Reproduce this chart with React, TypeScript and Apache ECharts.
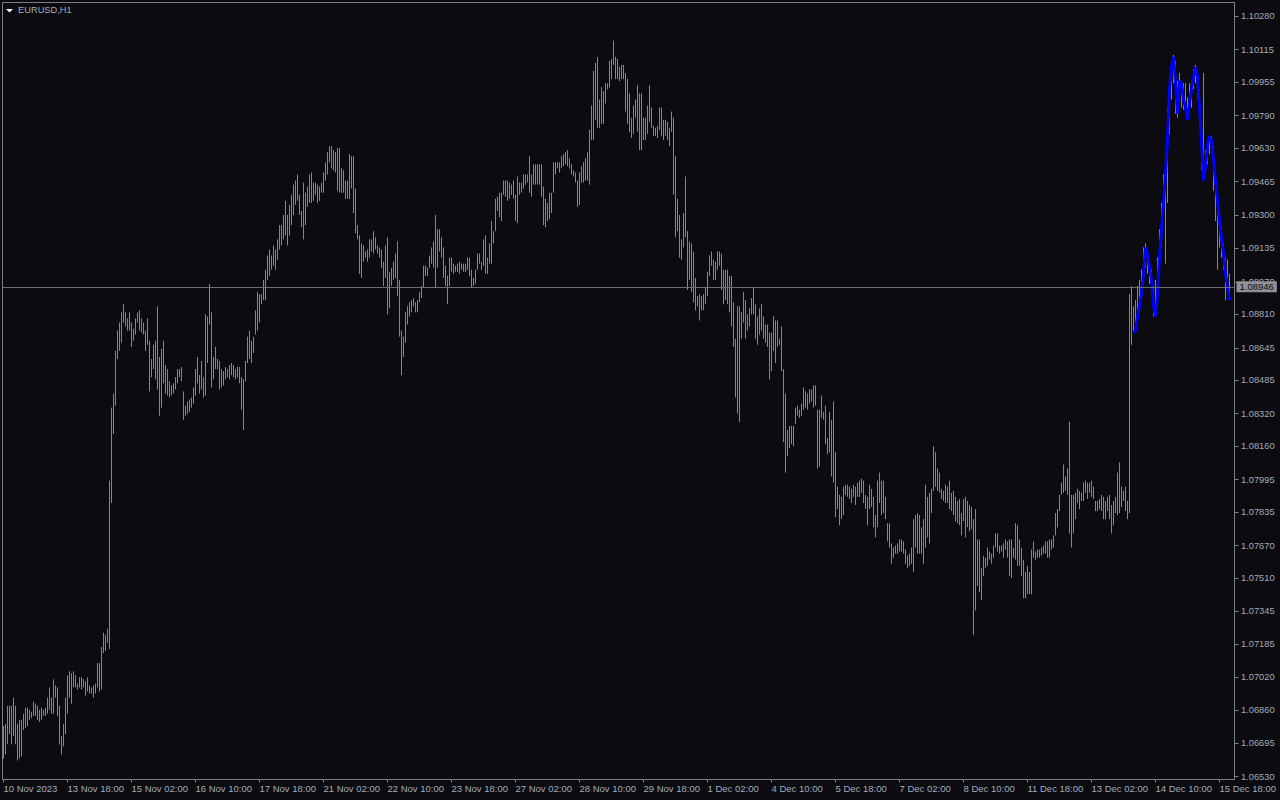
import React, { useEffect, useRef } from "react";
import * as echarts from "echarts";

// ---- Data (EURUSD H1, one bar per hour) ----
const barHigh: number[] = [
  1.0678, 1.0679, 1.0688, 1.0688, 1.0688, 1.0692, 1.0688, 1.0679, 1.0681, 1.0681,
  1.0684, 1.0687, 1.0687, 1.0686, 1.0685, 1.069, 1.0689, 1.0688, 1.0686, 1.0687,
  1.0686, 1.0687, 1.0692, 1.0697, 1.0692, 1.0701, 1.0698, 1.0697, 1.0688, 1.0673,
  1.0679, 1.0692, 1.0703, 1.0705, 1.0704, 1.0705, 1.0703, 1.0699, 1.0702, 1.0702,
  1.0701, 1.07, 1.0702, 1.0698, 1.0697, 1.0698, 1.0699, 1.0709, 1.0709, 1.0717,
  1.0724, 1.0723, 1.0726, 1.0799, 1.0835, 1.0842, 1.0863, 1.0873, 1.0877, 1.0882,
  1.0886, 1.0882, 1.0879, 1.0882, 1.0877, 1.0874, 1.0879, 1.0882, 1.0883, 1.0879,
  1.0877, 1.0873, 1.0879, 1.0868, 1.0859, 1.0866, 1.0868, 1.0885, 1.086, 1.0864,
  1.0868, 1.0856, 1.0854, 1.0848, 1.0846, 1.0847, 1.085, 1.0854, 1.0854, 1.0855,
  1.0843, 1.0836, 1.0838, 1.0839, 1.084, 1.0845, 1.0854, 1.086, 1.0851, 1.0858,
  1.085, 1.0881, 1.088, 1.0896, 1.0882, 1.086, 1.0865, 1.0859, 1.0858, 1.0854,
  1.0853, 1.0855, 1.0854, 1.0856, 1.0857, 1.0856, 1.0854, 1.0855, 1.0855, 1.085,
  1.0849, 1.0858, 1.087, 1.0873, 1.0868, 1.087, 1.0883, 1.0892, 1.0891, 1.0891,
  1.0898, 1.0903, 1.091, 1.0913, 1.091, 1.0915, 1.0913, 1.0918, 1.0925, 1.0925,
  1.093, 1.0937, 1.093, 1.0935, 1.094, 1.0945, 1.0947, 1.095, 1.094, 1.0932,
  1.0946, 1.0941, 1.0944, 1.095, 1.0951, 1.0946, 1.0946, 1.0945, 1.0944, 1.0946,
  1.0951, 1.0956, 1.0961, 1.0964, 1.0964, 1.0962, 1.0961, 1.0963, 1.0963, 1.0953,
  1.0952, 1.0947, 1.0947, 1.096, 1.0959, 1.0959, 1.0943, 1.0925, 1.092, 1.0916,
  1.0915, 1.0912, 1.0913, 1.0918, 1.0918, 1.0922, 1.0919, 1.0915, 1.0914, 1.0913,
  1.0907, 1.0915, 1.0919, 1.0902, 1.0904, 1.0907, 1.0911, 1.0917, 1.0898, 1.0873,
  1.087, 1.0882, 1.0885, 1.0887, 1.0888, 1.0889, 1.0887, 1.0888, 1.0892, 1.0895,
  1.0905, 1.0905, 1.0904, 1.091, 1.0914, 1.0917, 1.093, 1.0923, 1.0923, 1.0919,
  1.0914, 1.0905, 1.09, 1.0909, 1.0909, 1.0906, 1.0905, 1.0906, 1.0907, 1.0906,
  1.0906, 1.0906, 1.0909, 1.0909, 1.0903, 1.0899, 1.0903, 1.0911, 1.0911, 1.0907,
  1.0918, 1.092, 1.0909, 1.0916, 1.0927, 1.0922, 1.0938, 1.0939, 1.0941, 1.0941,
  1.0947, 1.0947, 1.0947, 1.0946, 1.0945, 1.0947, 1.094, 1.0949, 1.0946, 1.0946,
  1.095, 1.095, 1.095, 1.0959, 1.095, 1.0955, 1.0955, 1.0955, 1.0955, 1.0955,
  1.0944, 1.0938, 1.0936, 1.0941, 1.0941, 1.0956, 1.0956, 1.0956, 1.0956, 1.0959,
  1.096, 1.0961, 1.0962, 1.0958, 1.0955, 1.0952, 1.0951, 1.0947, 1.0951, 1.0954,
  1.0956, 1.0958, 1.0961, 1.0972, 1.0984, 1.1001, 1.1005, 1.1008, 1.0987, 1.0993,
  1.0991, 1.0995, 1.0995, 1.1006, 1.1007, 1.1016, 1.1008, 1.1007, 1.1003, 1.1004,
  1.1004, 1.1, 1.0997, 1.099, 1.0978, 1.0984, 1.0987, 1.0994, 1.099, 1.099,
  1.0978, 1.0978, 1.0984, 1.0994, 1.0983, 1.0974, 1.0973, 1.0974, 1.0983, 1.0983,
  1.0977, 1.0977, 1.0976, 1.0973, 1.0981, 1.0978, 1.0959, 1.0938, 1.093, 1.0918,
  1.0931, 1.0949, 1.0922, 1.0917, 1.0916, 1.0912, 1.0899, 1.089, 1.0891, 1.089,
  1.0891, 1.0894, 1.0902, 1.091, 1.0912, 1.0908, 1.0907, 1.0912, 1.0912, 1.0911,
  1.0903, 1.0903, 1.0903, 1.09, 1.09, 1.0887, 1.0869, 1.0885, 1.0885, 1.0882,
  1.0892, 1.0888, 1.0881, 1.0884, 1.0889, 1.0894, 1.0886, 1.088, 1.0884, 1.0886,
  1.088, 1.0876, 1.0876, 1.0872, 1.0872, 1.088, 1.0878, 1.0878, 1.0869, 1.0875,
  1.0854, 1.0842, 1.0824, 1.0826, 1.0826, 1.0826, 1.0835, 1.0836, 1.0834, 1.0837,
  1.0845, 1.0843, 1.0842, 1.0844, 1.0844, 1.0846, 1.0846, 1.0834, 1.0834, 1.0841,
  1.0833, 1.0836, 1.082, 1.0833, 1.0829, 1.0838, 1.0813, 1.0796, 1.0792, 1.0791,
  1.0796, 1.0797, 1.0797, 1.0796, 1.0795, 1.0797, 1.0796, 1.0798, 1.0799, 1.08,
  1.0799, 1.0792, 1.0791, 1.0797, 1.0795, 1.0791, 1.0782, 1.0799, 1.0803, 1.0799,
  1.0799, 1.0791, 1.0778, 1.0778, 1.0768, 1.0766, 1.0767, 1.0768, 1.077, 1.077,
  1.0769, 1.0765, 1.0762, 1.0763, 1.0766, 1.078, 1.0782, 1.0783, 1.0782, 1.0776,
  1.078, 1.0797, 1.0791, 1.0793, 1.0795, 1.0816, 1.0813, 1.0805, 1.0803, 1.0795,
  1.0794, 1.0797, 1.0796, 1.0799, 1.0793, 1.0794, 1.0791, 1.0789, 1.079, 1.0783,
  1.079, 1.0791, 1.0789, 1.0787, 1.0786, 1.078, 1.0785, 1.077, 1.077, 1.0756,
  1.0762, 1.0761, 1.0766, 1.0764, 1.0763, 1.0767, 1.0773, 1.0773, 1.0767, 1.0767,
  1.0768, 1.077, 1.0769, 1.077, 1.077, 1.0766, 1.0778, 1.0777, 1.077, 1.0766,
  1.076, 1.0754, 1.0757, 1.0754, 1.0765, 1.0769, 1.0764, 1.0765, 1.0765, 1.0766,
  1.0767, 1.0769, 1.0769, 1.077, 1.077, 1.0772, 1.0783, 1.0785, 1.0792, 1.0798,
  1.0807, 1.0801, 1.0805, 1.0828, 1.0792, 1.0792, 1.0793, 1.0795, 1.0794, 1.0793,
  1.0798, 1.0799, 1.0798, 1.0798, 1.0799, 1.0796, 1.0789, 1.0789, 1.079, 1.0792,
  1.0791, 1.0789, 1.0791, 1.0792, 1.0787, 1.0789, 1.0791, 1.0803, 1.0808, 1.0796,
  1.0794, 1.0796, 1.0789, 1.0891, 1.0895, 1.0885, 1.0888, 1.0895, 1.0898, 1.0903,
  1.0914, 1.0916, 1.0911, 1.0908, 1.0903, 1.0895, 1.0898, 1.0909, 1.0923, 1.0936,
  1.095, 1.0954, 1.0983, 1.0996, 1.1006, 1.1009, 1.1006, 1.0996, 1.1, 1.0996,
  1.0995, 1.0995, 1.0988, 1.0995, 1.0996, 1.1002, 1.1004, 1.1001, 1.0992, 1.0975,
  1.1, 1.0962, 1.0967, 1.0969, 1.0969, 1.0964, 1.095, 1.0942, 1.0931, 1.0924,
  1.0916, 1.0909, 1.0908, 1.0901,
];

const barLow: number[] = [
  1.0662, 1.0664, 1.0669, 1.0674, 1.0669, 1.0673, 1.0669, 1.0661, 1.0662, 1.0663,
  1.0676, 1.0677, 1.0678, 1.0681, 1.0682, 1.0683, 1.0683, 1.0681, 1.068, 1.0681,
  1.0683, 1.0683, 1.0684, 1.0686, 1.0684, 1.0684, 1.0692, 1.0683, 1.0669, 1.0664,
  1.0668, 1.0674, 1.0684, 1.0692, 1.0689, 1.0697, 1.0697, 1.0696, 1.0697, 1.0696,
  1.0697, 1.0693, 1.0695, 1.0694, 1.0694, 1.0692, 1.0694, 1.0697, 1.0695, 1.0696,
  1.0714, 1.0715, 1.0719, 1.0716, 1.0788, 1.0822, 1.0836, 1.0859, 1.0863, 1.0867,
  1.0877, 1.0875, 1.0873, 1.0873, 1.0865, 1.0868, 1.0871, 1.0877, 1.0873, 1.0872,
  1.0871, 1.0863, 1.0866, 1.0843, 1.085, 1.0854, 1.0849, 1.0844, 1.0831, 1.0835,
  1.0847, 1.0842, 1.0841, 1.084, 1.0841, 1.0842, 1.0844, 1.0847, 1.085, 1.0848,
  1.0829, 1.0831, 1.0832, 1.0833, 1.0835, 1.0837, 1.0841, 1.0847, 1.0842, 1.0844,
  1.084, 1.0841, 1.0857, 1.0876, 1.0845, 1.0849, 1.0854, 1.0854, 1.0844, 1.0845,
  1.0846, 1.0849, 1.085, 1.0849, 1.0851, 1.085, 1.0849, 1.085, 1.0847, 1.0834,
  1.0824, 1.0848, 1.0857, 1.0859, 1.0857, 1.0862, 1.0871, 1.0873, 1.0877, 1.0886,
  1.0888, 1.0888, 1.0898, 1.09, 1.0903, 1.0905, 1.0903, 1.0908, 1.0913, 1.0915,
  1.0918, 1.092, 1.0915, 1.092, 1.0925, 1.093, 1.0935, 1.0937, 1.093, 1.0924,
  1.0918, 1.0925, 1.0934, 1.0936, 1.0936, 1.0937, 1.094, 1.0936, 1.0937, 1.0941,
  1.0941, 1.0947, 1.095, 1.0956, 1.0953, 1.0952, 1.0951, 1.0942, 1.0941, 1.0941,
  1.0941, 1.0938, 1.0938, 1.0938, 1.0943, 1.0931, 1.0921, 1.0918, 1.0901, 1.0899,
  1.0907, 1.0909, 1.0907, 1.0909, 1.0912, 1.0911, 1.0913, 1.0911, 1.0909, 1.0904,
  1.0895, 1.0899, 1.0881, 1.0884, 1.0895, 1.0898, 1.0899, 1.089, 1.087, 1.0851,
  1.086, 1.0867, 1.0876, 1.088, 1.0882, 1.0885, 1.0882, 1.0882, 1.0887, 1.0889,
  1.0894, 1.09, 1.09, 1.0904, 1.0906, 1.0904, 1.0894, 1.0904, 1.0912, 1.0909,
  1.0899, 1.0895, 1.0886, 1.0895, 1.0902, 1.0901, 1.0902, 1.0902, 1.0901, 1.0903,
  1.0902, 1.0902, 1.0903, 1.09, 1.0894, 1.0895, 1.0896, 1.0903, 1.0906, 1.0903,
  1.0905, 1.0901, 1.0901, 1.0906, 1.0906, 1.0916, 1.0922, 1.0932, 1.0929, 1.0927,
  1.094, 1.0939, 1.0937, 1.0938, 1.094, 1.0938, 1.0927, 1.0926, 1.094, 1.0941,
  1.0943, 1.0945, 1.0946, 1.0941, 1.0939, 1.0945, 1.0945, 1.0945, 1.0945, 1.0939,
  1.0925, 1.0924, 1.0927, 1.0928, 1.0931, 1.0941, 1.095, 1.0953, 1.0951, 1.0953,
  1.0954, 1.0955, 1.0954, 1.0953, 1.095, 1.0949, 1.0946, 1.0934, 1.0935, 1.0946,
  1.0946, 1.0947, 1.0947, 1.0945, 1.0967, 1.0967, 1.0977, 1.0973, 1.0973, 1.0975,
  1.0975, 1.0985, 1.0992, 1.0993, 1.0997, 1.1004, 1.0997, 1.0997, 1.0996, 1.0997,
  1.0997, 1.0981, 1.0975, 1.0971, 1.0968, 1.097, 1.0978, 1.0971, 1.0962, 1.0962,
  1.0967, 1.0967, 1.097, 1.0976, 1.0973, 1.0969, 1.0969, 1.0968, 1.0972, 1.0969,
  1.0967, 1.0969, 1.0967, 1.0964, 1.0971, 1.094, 1.0919, 1.0922, 1.0909, 1.0908,
  1.0914, 1.0919, 1.0893, 1.0898, 1.0892, 1.0887, 1.0883, 1.0885, 1.0878, 1.0883,
  1.0883, 1.0886, 1.089, 1.09, 1.0905, 1.0898, 1.0898, 1.0903, 1.0905, 1.0893,
  1.0886, 1.0888, 1.0886, 1.0882, 1.0875, 1.0865, 1.084, 1.0832, 1.0828, 1.0869,
  1.0877, 1.0869, 1.0873, 1.0875, 1.0881, 1.0881, 1.0869, 1.0866, 1.0871, 1.0873,
  1.0869, 1.0867, 1.0865, 1.0849, 1.0853, 1.0863, 1.0857, 1.0865, 1.0866, 1.0853,
  1.0818, 1.0803, 1.0811, 1.0815, 1.0817, 1.0816, 1.0827, 1.0831, 1.083, 1.0831,
  1.0834, 1.0835, 1.0834, 1.0837, 1.0838, 1.0835, 1.0836, 1.0805, 1.0806, 1.083,
  1.0829, 1.0817, 1.0812, 1.0813, 1.0801, 1.0798, 1.0781, 1.0785, 1.0777, 1.078,
  1.0782, 1.0792, 1.0791, 1.079, 1.0788, 1.0791, 1.0787, 1.0791, 1.0791, 1.0793,
  1.0788, 1.0785, 1.0777, 1.0785, 1.0786, 1.0776, 1.0771, 1.0776, 1.0788, 1.0782,
  1.0783, 1.078, 1.0769, 1.0766, 1.0758, 1.0761, 1.0763, 1.0763, 1.0764, 1.0764,
  1.0763, 1.0758, 1.0756, 1.0757, 1.0758, 1.0754, 1.0766, 1.0763, 1.0763, 1.0763,
  1.0758, 1.0766, 1.0771, 1.0768, 1.0783, 1.0794, 1.0796, 1.0794, 1.0793, 1.079,
  1.0789, 1.0788, 1.0788, 1.0785, 1.0784, 1.0782, 1.0779, 1.0778, 1.0777, 1.0772,
  1.0779, 1.0771, 1.0776, 1.0774, 1.0775, 1.0723, 1.0735, 1.0747, 1.0744, 1.074,
  1.0752, 1.0756, 1.0757, 1.076, 1.0758, 1.0761, 1.0766, 1.0764, 1.0763, 1.0764,
  1.0761, 1.0765, 1.0761, 1.0752, 1.0751, 1.0761, 1.076, 1.0757, 1.0757, 1.0752,
  1.0741, 1.0741, 1.0743, 1.0743, 1.0743, 1.0761, 1.076, 1.0761, 1.0761, 1.0762,
  1.0763, 1.0763, 1.0761, 1.0761, 1.0765, 1.0766, 1.0772, 1.0776, 1.0784, 1.0792,
  1.0793, 1.0794, 1.0792, 1.0773, 1.0766, 1.0773, 1.078, 1.0788, 1.0785, 1.0789,
  1.0789, 1.0793, 1.079, 1.0793, 1.0791, 1.079, 1.0784, 1.0784, 1.0785, 1.0784,
  1.078, 1.078, 1.0784, 1.078, 1.0773, 1.0777, 1.0783, 1.0782, 1.0783, 1.0786,
  1.0789, 1.0784, 1.078, 1.0783, 1.0866, 1.0873, 1.0876, 1.0878, 1.0885, 1.0891,
  1.0898, 1.0904, 1.0901, 1.0896, 1.0891, 1.088, 1.088, 1.0893, 1.0901, 1.0914,
  1.0931, 1.0906, 1.0936, 1.097, 1.0987, 1.0995, 1.098, 1.0978, 1.0987, 1.0983,
  1.0982, 1.0983, 1.0977, 1.0983, 1.0983, 1.0992, 1.0995, 1.0988, 1.0974, 1.0952,
  1.0947, 1.095, 1.0955, 1.096, 1.0962, 1.0942, 1.0927, 1.0903, 1.0914, 1.0909,
  1.0903, 1.0888, 1.0891, 1.0891,
];

// Blue indicator line, starting at bar index BLUE_START
const BLUE_START = 565;
const blueLine: number[] = [
  1.0872, 1.0873, 1.088, 1.0885, 1.0891, 1.0901, 1.0914, 1.0911, 1.0904, 1.0898,
  1.0885, 1.088, 1.0891, 1.0909, 1.0923, 1.0936, 1.095, 1.0967, 1.0992, 1.1003,
  1.1008, 1.0996, 1.098, 1.0996, 1.0995, 1.0987, 1.0983, 1.0977, 1.0985, 1.0992,
  1.0998, 1.1003, 1.0998, 1.0983, 1.0967, 1.0947, 1.0954, 1.0964, 1.0969, 1.0967,
  1.0957, 1.0947, 1.0937, 1.0927, 1.0918, 1.0911, 1.0901, 1.0895, 1.0888,
];

const currentPrice = 1.08946;

// Tick labels
const xTickLabels: string[] = [
  "10 Nov 2023", "13 Nov 18:00", "15 Nov 02:00", "16 Nov 10:00", "17 Nov 18:00",
  "21 Nov 02:00", "22 Nov 10:00", "23 Nov 18:00", "27 Nov 02:00", "28 Nov 10:00",
  "29 Nov 18:00", "1 Dec 02:00", "4 Dec 10:00", "5 Dec 18:00", "7 Dec 02:00",
  "8 Dec 10:00", "11 Dec 18:00", "13 Dec 02:00", "14 Dec 10:00", "15 Dec 18:00",
];
const X_LABEL_EVERY = 32; // bars between time labels
const EMPTY_SLOTS = 2; // empty bar slots at the right edge

const yTickValues: number[] = [
  1.1028, 1.10115, 1.09955, 1.0979, 1.0963, 1.09465, 1.093, 1.09135, 1.0897, 1.0881,
  1.08645, 1.08485, 1.0832, 1.0816, 1.07995, 1.07835, 1.0767, 1.0751, 1.07345, 1.07185,
  1.0702, 1.0686, 1.06695, 1.0653,
];

const categories: string[] = Array.from(
  { length: barHigh.length + EMPTY_SLOTS },
  (_, i) => String(i)
);

// ---- Styles ----
const BG = "#0b0b10";
const BAR_COLOR = "#86868c";
const FRAME = "#7d7d84";
const TEXT = "#a4acb9";
const FONT = "Liberation Sans";

export default function App() {
  const ref = useRef<HTMLDivElement>(null);

  useEffect(() => {
    if (!ref.current) return;
    const chart = echarts.init(ref.current, null, { renderer: "svg" });

    const barData = barHigh.map((h, i) => [i, h, barLow[i]]);
    const blueData = categories.map((_, i) =>
      i >= BLUE_START && i - BLUE_START < blueLine.length ? blueLine[i - BLUE_START] : null
    );

    const option: any = {
      animation: false,
      backgroundColor: BG,
      grid: {
        left: 2.5,
        top: 2.5,
        right: 45.5,
        bottom: 20.5,
        show: true,
        borderColor: FRAME,
        borderWidth: 1,
        backgroundColor: "transparent",
      },
      xAxis: {
        type: "category",
        data: categories,
        boundaryGap: true,
        axisLine: { show: true, lineStyle: { color: FRAME, width: 1 } },
        axisTick: {
          show: true,
          interval: X_LABEL_EVERY - 1,
          alignWithLabel: true,
          length: 3,
          lineStyle: { color: FRAME },
        },
        axisLabel: {
          interval: X_LABEL_EVERY - 1,
          align: "left",
          margin: 4,
          color: TEXT,
          fontSize: 9.5,
          fontFamily: FONT,
          formatter: (_v: string, idx: number) =>
            idx % X_LABEL_EVERY === 0 ? xTickLabels[idx / X_LABEL_EVERY] ?? "" : "",
        },
        splitLine: { show: false },
      },
      yAxis: {
        type: "value",
        position: "right",
        min: 1.065162,
        max: 1.10348,
        axisLine: { show: true, lineStyle: { color: FRAME, width: 1 } },
        axisTick: {
          show: true,
          customValues: yTickValues,
          length: 4,
          lineStyle: { color: FRAME },
        },
        axisLabel: {
          customValues: yTickValues,
          margin: 6.5,
          color: TEXT,
          fontSize: 9.3,
          fontFamily: FONT,
          formatter: (v: number) => v.toFixed(5),
        },
        splitLine: { show: false },
      },
      series: [
        {
          type: "custom",
          name: "EURUSD",
          data: barData,
          encode: { x: 0, y: [1, 2] },
          silent: true,
          renderItem: (_params: any, api: any) => {
            const top = api.coord([api.value(0), api.value(1)]);
            const bot = api.coord([api.value(0), api.value(2)]);
            const x = Math.round(top[0] - 0.5) + 0.5;
            const y2 = Math.max(bot[1], top[1] + 1);
            return {
              type: "line",
              shape: { x1: x, y1: top[1], x2: x, y2 },
              style: { stroke: BAR_COLOR, lineWidth: 1 },
            };
          },
          z: 2,
        },
        {
          type: "line",
          name: "indicator",
          data: blueData,
          showSymbol: false,
          symbol: "none",
          connectNulls: false,
          lineStyle: { color: "#0000ff", width: 3 },
          itemStyle: { color: "#0000ff" },
          silent: true,
          z: 3,
          markLine: {
            silent: true,
            precision: 5,
            symbol: ["none", "none"],
            animation: false,
            lineStyle: { color: "#6c6c74", width: 1, type: "solid" },
            label: {
              show: true,
              position: "end",
              distance: 2,
              formatter: (p: any) => Number(p.value).toFixed(5),
              backgroundColor: "#909096",
              color: "#0b0b10",
              fontSize: 9.5,
              fontFamily: FONT,
              padding: [1, 3, 0, 3],
            },
            data: [{ yAxis: currentPrice }],
          },
        },
      ],
      graphic: [
        {
          type: "polygon",
          shape: { points: [[6, 9], [13, 9], [9.5, 12.5]] },
          style: { fill: "#ffffff" },
        },
        {
          type: "text",
          left: 18,
          top: 5.5,
          style: {
            text: "EURUSD,H1",
            fill: TEXT,
            fontSize: 9.3,
            fontFamily: FONT,
          },
        },
      ],
    };

    chart.setOption(option);
    return () => chart.dispose();
  }, []);

  return (
    <div
      ref={ref}
      style={{ position: "fixed", left: 0, top: 0, width: 1280, height: 800, background: BG }}
    />
  );
}
